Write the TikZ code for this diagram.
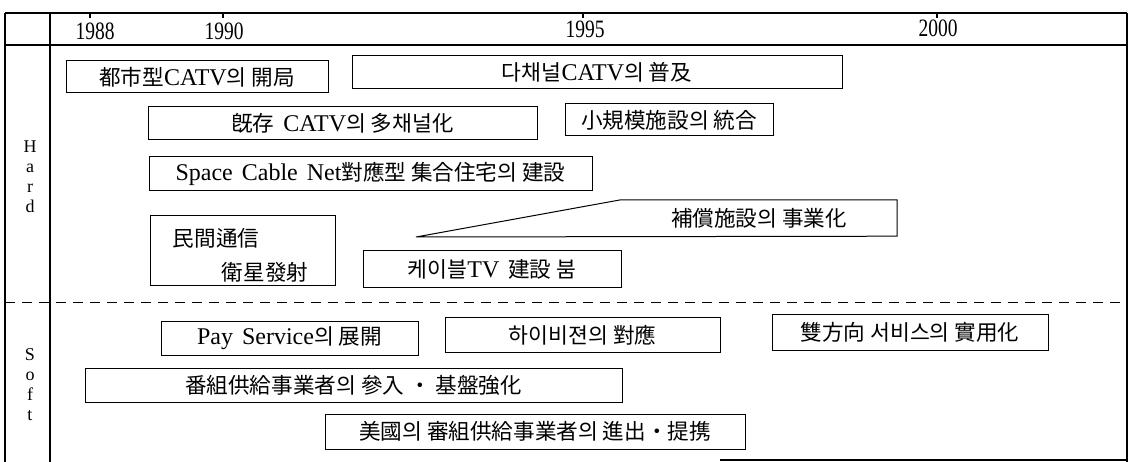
\documentclass[tikz,border=0pt]{standalone}
\usepackage{fontspec}
\setmainfont{Liberation Serif}[WordSpace=1.5]
\newfontfamily\krf{Noto Sans CJK KR}[Scale=0.9]
\newfontfamily\yrf{Liberation Serif}[FakeStretch=0.78]
\begin{document}
\begin{tikzpicture}[x=1pt,y=-1pt,
  frame/.style={line width=1.1pt},
  box/.style={draw, line width=1pt, inner sep=0pt, font=\fontsize{24}{28}\selectfont},
  plain/.style={inner sep=0pt, font=\fontsize{24}{28}\selectfont},
  yr/.style={inner sep=0pt, font=\yrf\fontsize{25}{27}\selectfont},
  side/.style={inner sep=0pt, anchor=base, font=\fontsize{18}{20}\selectfont},
  sep/.style={line width=1pt, dash pattern=on 10pt off 7pt}]
\useasboundingbox (0,0) rectangle (1135,462);

% frame
\draw[frame] (5,13) -- (1127,13);
\draw[frame] (5,45) -- (1127,45);
\draw[frame] (5,13) -- (5,462);
\draw[frame] (50,13) -- (50,462);
\draw[frame] (1127,13) -- (1127,462);
\draw[frame] (720,460) -- (1127,460);
\draw[sep] (5,303) -- (1127,303);
\foreach \t in {90,223,583,937} \draw[frame] (\t,13) -- (\t,18);

% years
\node[yr] (y88) at (95,31) {1988};
\node[yr] (y90) at (224,31) {1990};
\node[yr] (y95) at (585,29) {1995};
\node[yr] (y00) at (938,28) {2000};

% side labels
\node[side] (h1) at (30,153) {H};
\node[side] (h2) at (30,173) {a};
\node[side] (h3) at (30,193) {r};
\node[side] (h4) at (30,213) {d};
\node[side] (s1) at (30,360) {S};
\node[side] (s2) at (30,380) {o};
\node[side] (s3) at (30,400) {f};
\node[side] (s4) at (30,420) {t};

% Hard
\node[box, minimum width=262pt, minimum height=32pt] (a) at (197,77) {{\krf 都市型}CATV{\krf 의 開局}};
\node[box, minimum width=490pt, minimum height=33pt] (b) at (597,72.5) {{\krf 다채널}CATV{\krf 의 普及}};
\node[box, minimum width=389pt, minimum height=33pt] (c) at (342.5,123.5) {{\krf 旣存} CATV{\krf 의 多채널化}};
\node[box, minimum width=208pt, minimum height=32pt] (d) at (669,120) {\krf 小規模施設의 統合};
\node[box, minimum width=443pt, minimum height=34pt] (e) at (370.5,174) {Space Cable Net{\krf 對應型 集合住宅의 建設}};
\node[box, minimum width=185pt, minimum height=70pt] (f) at (242.5,251) {};
\node[plain] (f1) at (216,238) {\krf 民間通信};
\node[plain] (f2) at (265,272) {\krf 衛星發射};
\node[plain, minimum width=276pt, minimum height=36pt] (g) at (759,218) {\krf 補償施設의 事業化};
\coordinate (tip) at (416,237);
\draw[line width=1pt] (tip) -- (g.north west) -- (g.north east) -- (g.south east) -- cycle;
\node[box, minimum width=258pt, minimum height=37pt] (h) at (492,269.5) {{\krf 케이블}TV {\krf 建設 붐}};

% Soft
\node[box, minimum width=257pt, minimum height=34pt] (i) at (289.5,338) {Pay Service{\krf 의 展開}};
\node[box, minimum width=275pt, minimum height=34pt] (j) at (582.5,335) {\krf 하이비젼의 對應};
\node[box, minimum width=276pt, minimum height=35pt] (k) at (910,332.5) {\krf 雙方向 서비스의 實用化};
\node[box, minimum width=537pt, minimum height=34pt] (l) at (353.5,385) {\krf 番組供給事業者의 參入 ・ 基盤強化};
\node[box, minimum width=420pt, minimum height=35pt] (m) at (535,431.5) {\krf 美國의 審組供給事業者의 進出・提携};
\end{tikzpicture}
\end{document}
